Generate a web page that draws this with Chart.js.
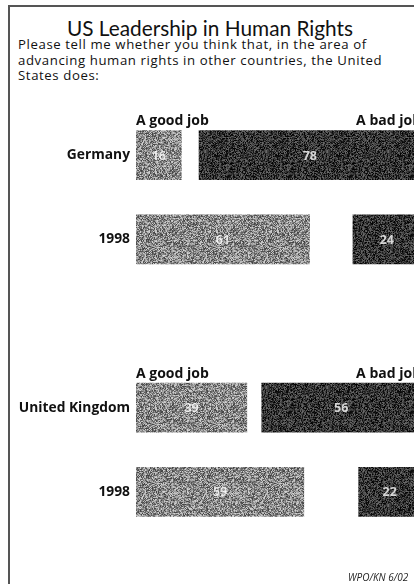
<!DOCTYPE html>
<html>
<head>
<meta charset="utf-8">
<script src="https://cdn.jsdelivr.net/npm/chart.js@4"></script>
<style>
  html, body { margin: 0; padding: 0; background: #fff; }
  body { width: 414px; height: 584px; overflow: hidden; position: relative; font-family: "Open Sans", Lato, sans-serif; }
  #marco { position: absolute; left: 8px; top: 5px; width: 420px; height: 600px;
           border-left: 2px solid #555; border-top: 2px solid #555; }
  #titulo { position: absolute; left: 0; top: 15px; width: 420px; text-align: center;
            font-family: Lato, sans-serif; font-size: 20.8px; color: #111; }
  #subtitulo { position: absolute; left: 18px; top: 37px; font-size: 13.2px; letter-spacing: 0.6px;
               line-height: 15.5px; color: #111; white-space: nowrap; }
  #fuente { position: absolute; left: 348px; top: 570px; font-size: 10px; font-style: italic; color: #222; white-space: nowrap; }
  #caja { position: absolute; left: 0; top: 0; width: 440px; height: 584px; }
</style>
</head>
<body>
<div id="marco"></div>
<div id="titulo">US Leadership in Human Rights</div>
<div id="subtitulo">Please tell me whether you think that, in the area of<br>advancing human rights in other countries, the United<br>States does:</div>
<div id="caja"><canvas id="miGrafico"></canvas></div>
<div id="fuente">WPO/KN 6/02</div>
<script>
// datos
const categorias = ['Germany', '1998', '', 'United Kingdom', '1998'];
const buenTrabajo = [16, 61, null, 39, 59];   // "A good job"
const malTrabajo = [78, 24, null, 56, 22];    // "A bad job"
const filasConCabecera = [0, 3];

// las barras "bad" van pegadas a la derecha (terminan en 100)
const datosBuenos = buenTrabajo.map(v => v === null ? null : [0, v]);
const datosMalos = malTrabajo.map(v => v === null ? null : [100 - v, 100]);

// textura granulada como la del original (semilla fija)
function textura(base, amp, semilla) {
  const c = document.createElement('canvas');
  c.width = 61; c.height = 59;
  const g = c.getContext('2d');
  const img = g.createImageData(c.width, c.height);
  let s = semilla;
  for (let i = 0; i < img.data.length; i += 4) {
    s = (s * 1103515245 + 12345) % 2147483648;
    let v = base + ((s / 2147483648) - 0.5) * 2 * amp;
    v = Math.max(0, Math.min(255, Math.round(v)));
    img.data[i] = img.data[i + 1] = img.data[i + 2] = v;
    img.data[i + 3] = 255;
  }
  g.putImageData(img, 0, 0);
  return g.createPattern(c, 'repeat');
}

// escribe etiquetas de valor y cabeceras
const etiquetas = {
  id: 'etiquetas',
  afterDatasetsDraw(chart) {
    const ctx = chart.ctx;
    const x = chart.scales.x;
    ctx.save();
    ctx.font = 'bold 12.5px "Open Sans", sans-serif';
    ctx.fillStyle = 'rgba(255,255,255,0.8)';
    ctx.textAlign = 'center';
    ctx.textBaseline = 'middle';
    chart.data.datasets.forEach((ds, i) => {
      const meta = chart.getDatasetMeta(i);
      const valores = i === 0 ? buenTrabajo : malTrabajo;
      meta.data.forEach((bar, j) => {
        if (valores[j] === null) return;
        const p = bar.getProps(['x', 'base', 'y'], true);
        ctx.fillText(valores[j], (p.x + p.base) / 2, p.y + 1);
      });
    });
    // cabeceras
    ctx.font = 'bold 14px "Open Sans", sans-serif';
    ctx.fillStyle = '#111';
    ctx.textBaseline = 'alphabetic';
    filasConCabecera.forEach(j => {
      const bar = chart.getDatasetMeta(0).data[j];
      const top = bar.y - bar.height / 2;
      ctx.textAlign = 'left';
      ctx.fillText('A good job', x.getPixelForValue(0), top - 5);
      ctx.textAlign = 'right';
      ctx.fillText('A bad job', x.getPixelForValue(100), top - 5);
    });
    ctx.restore();
  }
};

const canvas = document.getElementById('miGrafico');
new Chart(canvas, {
  type: 'bar',
  data: {
    labels: categorias,
    datasets: [
      { label: 'A good job', data: datosBuenos, backgroundColor: textura(138, 75, 7), grouped: false,
        categoryPercentage: 0.59, barPercentage: 1.0 },
      { label: 'A bad job', data: datosMalos, backgroundColor: textura(52, 55, 91), grouped: false,
        categoryPercentage: 0.59, barPercentage: 1.0 }
    ]
  },
  options: {
    indexAxis: 'y',
    responsive: true,
    maintainAspectRatio: false,
    animation: false,
    layout: { padding: { left: 0, right: 19, top: 113, bottom: 50 } },
    plugins: { legend: { display: false }, tooltip: { enabled: false }, title: { display: false } },
    scales: {
      x: { min: 0, max: 100, display: false },
      y: {
        grid: { display: false, drawTicks: false },
        border: { display: false },
        afterFit(scale) { scale.width = 136; },
        ticks: { color: '#111', padding: 6, font: { family: '"Open Sans", sans-serif', size: 13.8, weight: 'bold' } }
      }
    }
  },
  plugins: [etiquetas]
});
</script>
</body>
</html>
